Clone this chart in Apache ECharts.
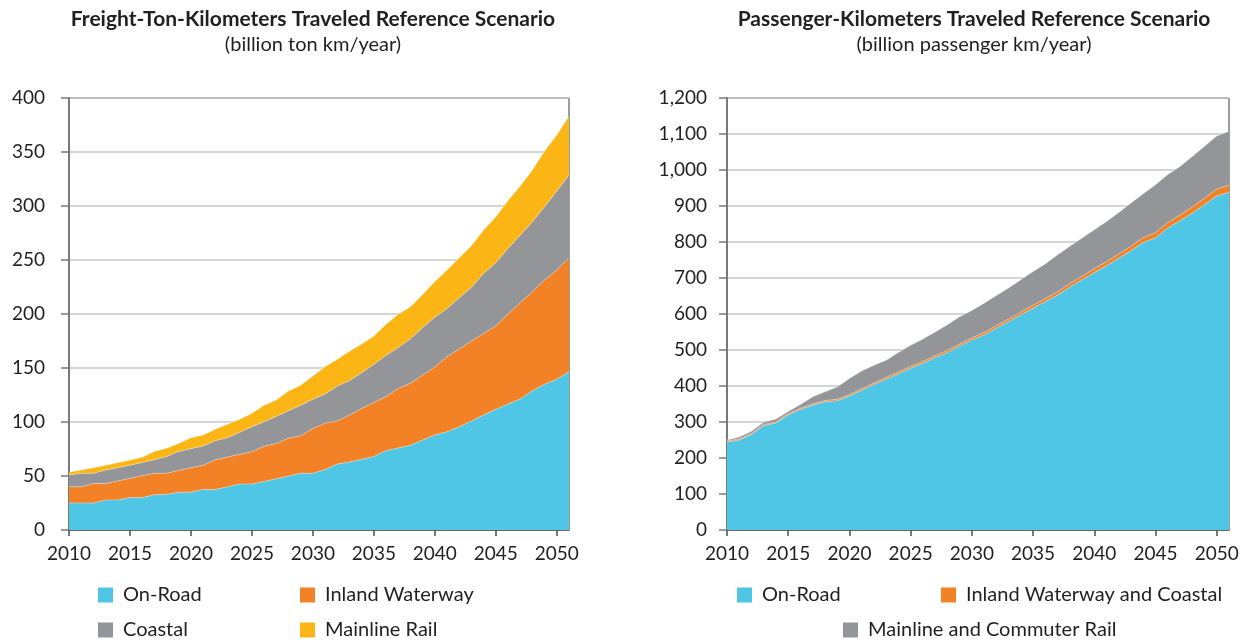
<!DOCTYPE html>
<html>
<head>
<meta charset="utf-8">
<script src="https://cdn.jsdelivr.net/npm/echarts@6/dist/echarts.min.js"></script>
<style>
html,body{margin:0;padding:0;background:#fff;}
#chart{width:1247px;height:644px;}
</style>
</head>
<body>
<div id="chart"></div>
<script>
// Years (x categories)
var years = ['2010','2011','2012','2013','2014','2015','2016','2017','2018','2019',
             '2020','2021','2022','2023','2024','2025','2026','2027','2028','2029',
             '2030','2031','2032','2033','2034','2035','2036','2037','2038','2039',
             '2040','2041','2042','2043','2044','2045','2046','2047','2048','2049',
             '2050','2051'];

// Freight (billion ton km/year)
var freightOnRoad = [25,25,25,27.8,27.8,30,30,32.7,33,35,
                     35,37.6,37.6,40,42.6,42.6,45,47.5,50,52.5,
                     52.5,56,61,63,65.4,68,73.5,76,78.4,83.3,
                     88,91,95.7,101,106.5,111.7,116.7,121.3,129,135,
                     139.5,146.6];
var freightInlandWaterway = [15,15,18,15.2,17.6,17.8,20.3,19.8,19.5,20.2,
                     22.7,22.4,27.4,27.6,27.4,29.9,32.5,32.5,35,34.8,
                     41.5,42.8,40,43.5,47.2,50,50,55,57.4,60.2,
                     63,69.5,71.9,74,75.5,77.3,83.3,89.2,91.7,96.5,
                     101.2,105.4];
var freightCoastal = [11,12.5,9.5,12.5,12.3,12.2,12.3,12.5,15.5,17.6,
                     17.6,17.8,17.7,17.9,20.4,23.2,22.8,25.2,25.5,28.1,
                     27,27.2,32.3,31.8,33.1,35.4,38.2,38,41.2,44.1,
                     46,44.5,47.4,49.7,55.7,58.5,60.8,62.5,64.8,67.9,
                     73.3,76.7];
var freightMainlineRail = [2.5,3,5.2,4.4,4.6,4.8,4.7,7.8,7.6,7.4,
                     10.2,10.2,10.5,12.5,12.1,12.3,15.1,15.2,18.2,18.6,
                     21.6,25.2,24.7,27.1,26.5,26.2,28.7,30.7,29.8,30.4,
                     33,35.7,37,38.6,40.1,42.5,44.2,45.5,47.8,51.6,
                     51.7,54.6];

// Passenger (billion passenger km/year)
var passOnRoad = [244,250,265,290,297,320,335,347,356,359,
                  372,388,404,419,434,449,463,479,493,511,
                  528,542,561,579,598,616,635,653,675,695,
                  715,734,755,776,799,811,839,859,880,904,
                  928,938];
var passWaterwayCoastal = [3,3,3,3,3,3.5,3.5,3.5,4,4,
                  4,4.5,4.5,5,5,5,5.5,5.5,6,6,
                  6,6.5,7,7,7.5,8,8.5,9,9.5,10,
                  11,11.5,12,13,13.5,14.5,15,16,17,18,
                  19,20];
var passMainlineCommuterRail = [3,5,6,6,8,6,10,19.6,23.8,34,
                  45,49.5,49,47.8,54.3,59,62,65.5,71,75.5,
                  76,81.5,83.3,86,89.8,94,95.4,102.5,103.5,106,
                  107.7,111.5,115,119.4,121.8,133.5,133.3,135,140.6,144,
                  147.5,149.3];

var freightTicks = [0,50,100,150,200,250,300,350,400];
var passTicks = [0,100,200,300,400,500,600,700,800,900,1000,1100,1200];

var COLORS = {road:'#50C6E7', water:'#F38226', coastal:'#939598', rail:'#FBB616'};
var FONT = 'Lato';
var TXT = '#231F20';

function areaSeries(name, vals, color, xi, stack){
  return {
    name: name, type: 'line', xAxisIndex: xi, yAxisIndex: xi, stack: stack,
    data: vals.slice(), symbol: 'none', showSymbol: false,
    lineStyle: {width: 0.6, color: 'rgba(255,255,255,0.55)'},
    areaStyle: {color: color, opacity: 1},
    itemStyle: {color: color},
    silent: true
  };
}

function xAxisCfg(gi){
  return {
    type: 'category', gridIndex: gi, data: years, boundaryGap: false,
    axisLine: {show: true, onZero: false, lineStyle: {color: '#4d4d4d', width: 1.5}},
    axisTick: {show: true, interval: 4, length: 6, lineStyle: {color: '#4d4d4d', width: 1.5}},
    axisLabel: {show: true, interval: 4, margin: 14, fontSize: 19, color: TXT, fontFamily: FONT},
    splitLine: {show: false}
  };
}
function yAxisCfg(gi, ticks, margin){
  var step = ticks[1]-ticks[0];
  return {
    type: 'value', gridIndex: gi, min: ticks[0], max: ticks[ticks.length-1], interval: step,
    axisLine: {show: true, lineStyle: {color: '#7a7a7a', width: 2}},
    axisTick: {show: true, length: 8, lineStyle: {color: '#7a7a7a', width: 1.5}},
    axisLabel: {margin: margin, fontSize: 19, color: TXT, fontFamily: FONT,
                formatter: function(v){ return v.toLocaleString('en-US'); }},
    splitLine: {show: true, lineStyle: {color: '#c8c8c8', width: 1.5}}
  };
}

function legendItem(name, left, top){
  return {
    data: [name], left: left, top: top, icon: 'rect', itemWidth: 15, itemHeight: 15,
    itemGap: 0, padding: 0, selectedMode: false,
    textStyle: {fontSize: 20, color: TXT, fontFamily: FONT, padding: [0,0,0,5]}
  };
}

var option = {
  backgroundColor: '#ffffff',
  animation: false,
  title: [
    {text: 'Freight-Ton-Kilometers Traveled Reference Scenario', subtext: '(billion ton km/year)',
     left: 308, top: 4, textAlign: 'center', itemGap: 5,
     textStyle: {fontFamily: FONT, fontWeight: 'bold', fontSize: 21, color: TXT},
     subtextStyle: {fontFamily: FONT, fontSize: 20, color: TXT}},
    {text: 'Passenger-Kilometers Traveled Reference Scenario', subtext: '(billion passenger km/year)',
     left: 969, top: 4, textAlign: 'center', itemGap: 5,
     textStyle: {fontFamily: FONT, fontWeight: 'bold', fontSize: 21, color: TXT},
     subtextStyle: {fontFamily: FONT, fontSize: 20, color: TXT}}
  ],
  grid: [
    {left: 69, top: 98, width: 500, height: 432, show: true, borderColor: '#3a3a3a', borderWidth: 1, backgroundColor: 'transparent'},
    {left: 727, top: 98, width: 502, height: 432, show: true, borderColor: '#3a3a3a', borderWidth: 1, backgroundColor: 'transparent'}
  ],
  xAxis: [xAxisCfg(0), xAxisCfg(1)],
  yAxis: [yAxisCfg(0, freightTicks, 24), yAxisCfg(1, passTicks, 20)],
  legend: [
    legendItem('On-Road', 98, 585),
    legendItem('Inland Waterway', 300, 585),
    legendItem('Coastal', 98, 620),
    legendItem('Mainline Rail', 300, 620),
    legendItem('On-Road ', 737, 585),
    legendItem('Inland Waterway and Coastal', 941, 585),
    legendItem('Mainline and Commuter Rail', 843, 620)
  ],
  series: [
    areaSeries('On-Road', freightOnRoad, COLORS.road, 0, 'f'),
    areaSeries('Inland Waterway', freightInlandWaterway, COLORS.water, 0, 'f'),
    areaSeries('Coastal', freightCoastal, COLORS.coastal, 0, 'f'),
    areaSeries('Mainline Rail', freightMainlineRail, COLORS.rail, 0, 'f'),
    areaSeries('On-Road ', passOnRoad, COLORS.road, 1, 'p'),
    areaSeries('Inland Waterway and Coastal', passWaterwayCoastal, COLORS.water, 1, 'p'),
    areaSeries('Mainline and Commuter Rail', passMainlineCommuterRail, COLORS.coastal, 1, 'p')
  ]
};

var chart = echarts.init(document.getElementById('chart'), null, {renderer: 'canvas'});
chart.setOption(option);
</script>
</body>
</html>
